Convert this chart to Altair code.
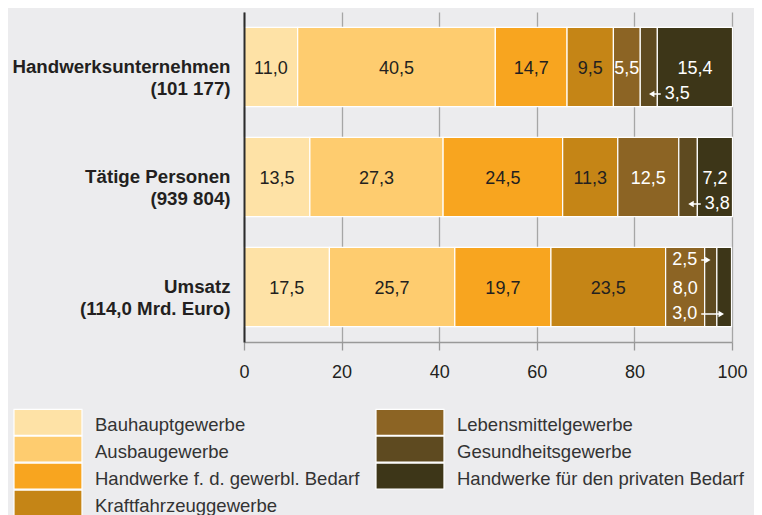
import altair as alt
import pandas as pd

FONT = "Liberation Sans"

categories = ["Handwerksunternehmen\n(101 177)", "Tätige Personen\n(939 804)", "Umsatz\n(114,0 Mrd. Euro)"]
sectors = ["Bauhauptgewerbe", "Ausbaugewerbe", "Handwerke f. d. gewerbl. Bedarf",
           "Kraftfahrzeuggewerbe", "Lebensmittelgewerbe", "Gesundheitsgewerbe",
           "Handwerke für den privaten Bedarf"]
colors = ["#FEE2A6", "#FECC6F", "#F8A51F", "#C58516", "#8C6424", "#5E4A20", "#3D3618"]
values_unternehmen = [11.0, 40.5, 14.7, 9.5, 5.5, 3.5, 15.4]
values_personen = [13.5, 27.3, 24.5, 11.3, 12.5, 3.8, 7.2]
values_umsatz = [17.5, 25.7, 19.7, 23.5, 8.0, 2.5, 3.0]
x_ticks = [0, 20, 40, 60, 80, 100]

# callouts: (row, sector shown, host sector, side, arrow direction)
callouts = [(0, 5, 6, "below", "left"),
            (1, 5, 6, "below", "left"),
            (2, 5, 4, "above", "right"),
            (2, 6, 4, "below", "right")]

PLOT_H = 330
PAD_IN, PAD_OUT = 0.28, 0.14
step = PLOT_H / (len(categories) - PAD_IN + 2 * PAD_OUT)
half_band = step * (1 - PAD_IN) / 2

all_values = [values_unternehmen, values_personen, values_umsatz]
rows = []
for ci, vals in enumerate(all_values):
    s = 0.0
    for si, v in enumerate(vals):
        rows.append(dict(cat=categories[ci], ci=ci, si=si, sector=sectors[si], start=s, end=s + v,
                         mid=s + v / 2, label=f"{v:.1f}".replace(".", ","),
                         tcolor="#231F20" if si < 4 else "white"))
        s += v
df = pd.DataFrame(rows)

called = {(c[0], c[1]) for c in callouts}
df_main = df[[(r.ci, r.si) not in called for r in df.itertuples()]]

crow = []
for ci, si, hi, side, direction in callouts:
    tgt = df[(df.ci == ci) & (df.si == si)].iloc[0]
    host = df[(df.ci == ci) & (df.si == hi)].iloc[0]
    if direction == "left":
        tail = host.start + 0.7
        text_x = tail + 0.8
        tip = tgt.mid + 0.6
        align = "left"
        shape = "triangle-left"
    else:
        text_x = host.mid + 2.5
        tail = text_x + 0.8
        tip = tgt.mid - 0.6
        align = "right"
        shape = "triangle-right"
    crow.append(dict(cat=categories[ci], label=tgt.label, text_x=text_x, tail=tail, tip=tip,
                     align=align, shape=shape, yoff=-27 if side == "above" else 27))
dc = pd.DataFrame(crow)


def Y(axis=False):
    kw = dict(sort=categories, title=None,
              scale=alt.Scale(paddingInner=PAD_IN, paddingOuter=PAD_OUT))
    if axis:
        kw["axis"] = alt.Axis(ticks=False, tickSize=0, domainColor="#2B2B2B", domainWidth=2,
                              labelFont=FONT, labelFontSize=18.7, labelFontWeight="bold",
                              labelColor="#231F20", labelPadding=14,
                              labelExpr="split(datum.label, '\\n')", labelLineHeight=22,
                              labelLimit=0, zindex=1, grid=False)
    return alt.Y("cat:N", **kw)


bars = alt.Chart(df).mark_bar(stroke="white", strokeWidth=1.2).encode(
    y=Y(True),
    x=alt.X("start:Q", title=None, scale=alt.Scale(domain=[0, 100], nice=False),
            axis=alt.Axis(values=x_ticks, labelFont=FONT, labelFontSize=18, labelColor="#231F20",
                          labelFlush=False,
                          tickColor="#999999", tickSize=8, tickWidth=1.3,
                          domainColor="#999999", domainWidth=1.3,
                          gridColor="#A6A6A6", gridWidth=1.3, labelPadding=13)),
    x2="end:Q",
    color=alt.Color("sector:N", scale=alt.Scale(domain=sectors, range=colors),
                    legend=alt.Legend(title=None, orient="none", legendX=-231, legendY=401,
                                      columns=2, columnPadding=13, rowPadding=-5, padding=0,
                                      symbolType="M-1,-1.45L5.18,-1.45L5.18,0.91L-1,0.91Z",
                                      symbolSize=484, symbolStrokeColor="white",
                                      symbolStrokeWidth=1.2, symbolOpacity=1,
                                      labelFont=FONT, labelFontSize=18.5, labelColor="#333333",
                                      labelOffset=58, labelLimit=0)),
)

main_text = alt.Chart(df_main).mark_text(font=FONT, fontSize=18, dy=2).encode(
    y=Y(), x=alt.X("mid:Q", title=None), text="label:N",
    color=alt.Color("tcolor:N", scale=None))

layers = [bars, main_text]
for (align, yoff), g in dc.groupby(["align", "yoff"]):
    off = float(half_band + int(yoff))
    layers.append(alt.Chart(g).mark_rule(color="white", strokeWidth=1.5).encode(
        y=Y(), x=alt.X("tail:Q", title=None), x2="tip:Q", yOffset=alt.value(off)))
    layers.append(alt.Chart(g).mark_point(filled=True, color="white", size=40, opacity=1).encode(
        y=Y(), x=alt.X("tip:Q", title=None), shape=alt.Shape("shape:N", scale=None),
        yOffset=alt.value(off)))
    layers.append(alt.Chart(g).mark_text(align=align, font=FONT, fontSize=18, color="white").encode(
        y=Y(), x=alt.X("text_x:Q", title=None), text="label:N", yOffset=alt.value(off)))

chart = alt.layer(*layers).properties(
    width=488, height=PLOT_H,
    autosize=alt.AutoSizeParams(type="none"),
    padding={"left": 236, "top": 4, "right": 22, "bottom": 178},
    background="#ECECEE",
).configure_view(stroke=None)

chart.save("out.html", embed_options={"renderer": "svg", "actions": False})
